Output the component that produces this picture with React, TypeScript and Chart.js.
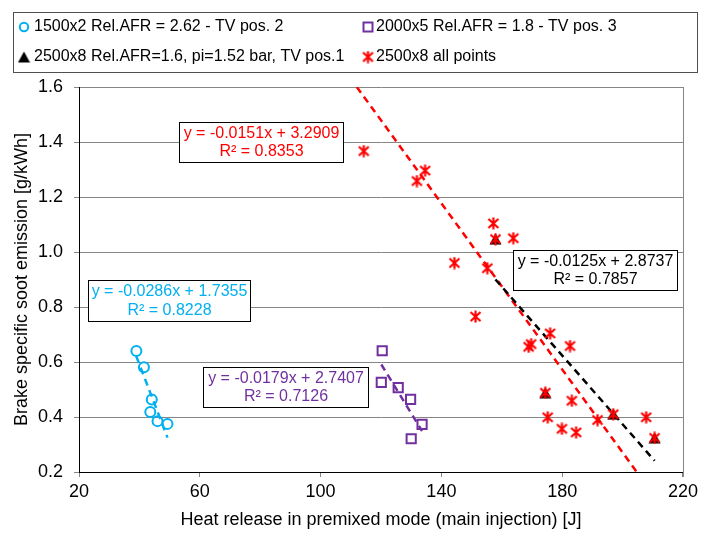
import React, { useEffect, useRef } from 'react';
import { Chart, registerables } from 'chart.js';

Chart.register(...registerables);

// ---- Data ----
const circleX = [39.0, 41.5, 44.1, 43.6, 46.0, 49.3];
const circleY = [0.640, 0.581, 0.464, 0.418, 0.385, 0.375];

const squareX = [120.4, 120.1, 125.7, 129.8, 133.6, 130.0];
const squareY = [0.641, 0.526, 0.507, 0.464, 0.373, 0.321];

const triangleX = [157.9, 174.4, 196.9, 210.6];
const triangleY = [1.047, 0.488, 0.410, 0.324];

const starX = [114.3, 134.6, 131.9, 144.3, 157.2, 157.9, 163.8, 155.2, 151.3, 176.0, 168.9, 169.7,
  182.6, 174.4, 183.2, 175.2, 179.9, 184.6, 191.7, 196.9, 207.8, 210.6];
const starY = [1.367, 1.296, 1.258, 0.960, 1.104, 1.047, 1.050, 0.941, 0.765, 0.704, 0.655, 0.665,
  0.658, 0.488, 0.459, 0.399, 0.357, 0.344, 0.389, 0.410, 0.399, 0.324];

// trendline end points
const trendCyanX = [39.0, 49.3];
const trendCyanY = [0.620, 0.325];
const trendPurpleX = [120.1, 133.6];
const trendPurpleY = [0.591, 0.349];
const trendBlackX = [157.9, 210.6];
const trendBlackY = [0.900, 0.241];
const trendRedX = [112.0, 204.7];
const trendRedY = [1.600, 0.200];

const legendLabels = [
  '1500x2 Rel.AFR = 2.62 - TV pos. 2',
  '2000x5 Rel.AFR = 1.8 - TV pos. 3',
  '2500x8 Rel.AFR=1.6, pi=1.52 bar, TV pos.1',
  '2500x8 all points',
];

const eqRed = ['y = -0.0151x + 3.2909', 'R² = 0.8353'];
const eqCyan = ['y = -0.0286x + 1.7355', 'R² = 0.8228'];
const eqPurple = ['y = -0.0179x + 2.7407', 'R² = 0.7126'];
const eqBlack = ['y = -0.0125x + 2.8737', 'R² = 0.7857'];

const xTitle = 'Heat release in premixed mode (main injection) [J]';
const yTitle = 'Brake specific soot emission [g/kWh]';
const xMin = 20, xMax = 220, xStep = 40;
const yMin = 0.2, yMax = 1.6, yStep = 0.2;

// ---- Styles ----
const FONT = '"Liberation Sans", Arial, sans-serif';
const CYAN = '#00B0F0';
const PURPLE = '#7030A0';
const RED = '#FF0000';
const BLACK = '#000000';
const GRID = '#868686';

const zip = (xs: number[], ys: number[]) => xs.map((x, i) => ({ x, y: ys[i] }));

function makeStar(color: string) {
  const c = document.createElement('canvas');
  c.width = 13; c.height = 13;
  const g = c.getContext('2d')!;
  g.strokeStyle = color;
  g.lineWidth = 2.2;
  g.beginPath();
  g.moveTo(1.5, 2); g.lineTo(11.5, 11);
  g.moveTo(11.5, 2); g.lineTo(1.5, 11);
  g.moveTo(6.5, 0.5); g.lineTo(6.5, 12.5);
  g.stroke();
  return c;
}

function makeTriangle(color: string) {
  const c = document.createElement('canvas');
  c.width = 13; c.height = 12;
  const g = c.getContext('2d')!;
  g.fillStyle = color;
  g.beginPath();
  g.moveTo(6.5, 0.5); g.lineTo(12.5, 11.5); g.lineTo(0.5, 11.5);
  g.closePath();
  g.fill();
  return c;
}

export default function App() {
  const ref = useRef<HTMLCanvasElement | null>(null);

  useEffect(() => {
    if (!ref.current) return;
    const star = makeStar(RED);
    const tri = makeTriangle(BLACK);

    const drawBox = (ctx: CanvasRenderingContext2D, l: number, t: number, r: number, b: number, lines: string[], color: string) => {
      ctx.save();
      ctx.fillStyle = '#ffffff';
      ctx.fillRect(l, t, r - l, b - t);
      ctx.strokeStyle = '#000000';
      ctx.lineWidth = 1;
      ctx.strokeRect(l + 0.5, t + 0.5, r - l - 1, b - t - 1);
      ctx.fillStyle = color;
      ctx.font = `16px ${FONT}`;
      ctx.textAlign = 'center';
      ctx.textBaseline = 'middle';
      const cx = (l + r) / 2;
      const cy = (t + b) / 2;
      ctx.fillText(lines[0], cx, cy - 9.2);
      ctx.fillText(lines[1], cx, cy + 9.2);
      ctx.restore();
    };

    const overlay = {
      id: 'overlay',
      afterDraw(chart: any) {
        const ctx: CanvasRenderingContext2D = chart.ctx;
        const { right, top, bottom } = chart.chartArea;
        ctx.save();
        // right frame line
        ctx.strokeStyle = GRID;
        ctx.lineWidth = 1;
        ctx.beginPath();
        ctx.moveTo(Math.round(right) + 0.5, top);
        ctx.lineTo(Math.round(right) + 0.5, bottom + 5);
        ctx.stroke();

        // legend box
        ctx.fillStyle = '#ffffff';
        ctx.fillRect(13, 12, 685, 61);
        ctx.strokeStyle = '#505050';
        ctx.strokeRect(13.5, 12.5, 684, 60);
        ctx.font = `16px ${FONT}`;
        ctx.textBaseline = 'middle';
        ctx.textAlign = 'left';
        ctx.fillStyle = '#000000';
        const r1 = 27, r2 = 57, m1 = 24, m2 = 368, t1 = 34, t2 = 376;
        // circle
        ctx.strokeStyle = CYAN; ctx.lineWidth = 2;
        ctx.beginPath(); ctx.arc(m1, r1, 4.2, 0, Math.PI * 2); ctx.stroke();
        // square
        ctx.strokeStyle = PURPLE;
        ctx.strokeRect(m2 - 4.5, r1 - 4.5, 9, 9);
        // triangle / star
        ctx.drawImage(tri, m1 - 6.5, r2 - 6);
        ctx.drawImage(star, m2 - 6.5, r2 - 6.5);
        ctx.fillStyle = '#000000';
        ctx.fillText(legendLabels[0], t1, r1);
        ctx.fillText(legendLabels[1], t2, r1);
        ctx.fillText(legendLabels[2], t1, r2);
        ctx.fillText(legendLabels[3], t2, r2);
        ctx.restore();

        // equation boxes
        drawBox(ctx, 179, 122, 344, 163, eqRed, RED);
        drawBox(ctx, 88, 280, 251, 322, eqCyan, CYAN);
        drawBox(ctx, 203, 367, 369, 408, eqPurple, PURPLE);
        drawBox(ctx, 513, 250, 678, 291, eqBlack, BLACK);
      },
    };

    const trend = (xs: number[], ys: number[], color: string) => ({
      data: zip(xs, ys),
      showLine: true,
      pointRadius: 0,
      borderColor: color,
      borderWidth: 2.5,
      borderDash: [7, 5],
      fill: false,
      order: 3,
    });

    const chart = new Chart(ref.current, {
      type: 'scatter',
      data: {
        datasets: [
          {
            label: legendLabels[0], data: zip(circleX, circleY), pointStyle: 'circle', pointRadius: 5,
            pointBorderWidth: 2, pointBorderColor: CYAN, pointBackgroundColor: 'rgba(0,0,0,0)', order: 5,
          },
          {
            label: legendLabels[1], data: zip(squareX, squareY), pointStyle: 'rect', pointRadius: 6.5,
            pointBorderWidth: 2, pointBorderColor: PURPLE, pointBackgroundColor: 'rgba(0,0,0,0)', order: 5,
          },
          {
            label: legendLabels[2], data: zip(triangleX, triangleY), pointStyle: tri as any, pointRadius: 6,
            pointBorderWidth: 0, pointBorderColor: BLACK, pointBackgroundColor: BLACK, order: 1,
          },
          {
            label: legendLabels[3], data: zip(starX, starY), pointStyle: star as any, pointRadius: 6,
            pointBorderWidth: 0, pointBorderColor: RED, pointBackgroundColor: RED, order: 0,
          },
          trend(trendCyanX, trendCyanY, CYAN),
          trend(trendPurpleX, trendPurpleY, PURPLE),
          trend(trendBlackX, trendBlackY, BLACK),
          trend(trendRedX, trendRedY, RED),
        ] as any,
      },
      options: {
        responsive: false,
        animation: false,
        devicePixelRatio: 1,
        layout: { padding: { top: 87, right: 15, left: 0, bottom: 0 } },
        plugins: { legend: { display: false }, tooltip: { enabled: false } },
        scales: {
          x: {
            type: 'linear', min: xMin, max: xMax,
            ticks: { stepSize: xStep, color: '#000', font: { family: FONT, size: 18 }, padding: 4, maxRotation: 0 },
            grid: { drawOnChartArea: false, tickLength: 5, color: GRID, tickColor: GRID },
            border: { color: '#000', width: 1 },
            title: { display: true, text: xTitle, color: '#000', font: { family: FONT, size: 18 }, padding: { top: 0, bottom: 3 } },
            afterFit(s: any) { s.height = 62; },
          },
          y: {
            type: 'linear', min: yMin, max: yMax,
            ticks: { stepSize: yStep, color: '#000', font: { family: FONT, size: 18 }, padding: 11,
              callback: (v: any) => Number(v).toFixed(1) },
            grid: { color: GRID, tickLength: 5, tickColor: GRID },
            border: { color: '#000', width: 1 },
            title: { display: true, text: yTitle, color: '#000', font: { family: FONT, size: 18 }, padding: { top: 11, bottom: 0 } },
            afterFit(s: any) { s.width = 79; },
          },
        },
      } as any,
      plugins: [overlay],
    });
    return () => chart.destroy();
  }, []);

  return (
    <div style={{ position: 'absolute', left: 0, top: 0, width: 702, height: 534, background: '#fff' }}>
      <canvas ref={ref} width={702} height={534} style={{ display: 'block' }} />
    </div>
  );
}
